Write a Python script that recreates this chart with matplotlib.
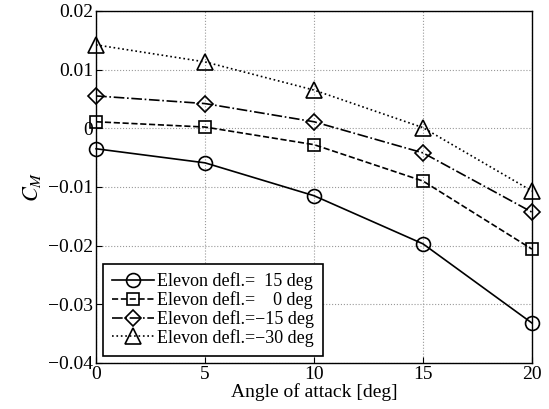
import numpy as np
import matplotlib.pyplot as plt

plt.rcParams['font.family'] = ['Liberation Serif', 'DejaVu Serif']
plt.rcParams['mathtext.fontset'] = 'stix'

alpha = [0, 5, 10, 15, 20]
cm_p15 = [-0.0035, -0.0059, -0.0115, -0.0197, -0.0332]
cm_0 = [0.0011, 0.0002, -0.0028, -0.0090, -0.0206]
cm_m15 = [0.0055, 0.0042, 0.0011, -0.0042, -0.0143]
cm_m30 = [0.0142, 0.0113, 0.0065, 0.0001, -0.0107]

labels = ['Elevon defl.=  15 deg', 'Elevon defl.=    0 deg',
          'Elevon defl.=\u221215 deg', 'Elevon defl.=\u221230 deg']

fig = plt.figure(figsize=(5.49, 4.09), dpi=100)
ax = fig.add_axes([0.175, 0.1125, 0.794, 0.861])

series = [(cm_p15, '-', 'o', 10), (cm_0, '--', 's', 9),
          (cm_m15, '-.', 'D', 8), (cm_m30, ':', '^', 12)]
for (y, ls, mk, ms), lab in zip(series, labels):
    ax.plot(alpha, y, color='k', linestyle=ls, linewidth=1.2, marker=mk,
            markersize=ms, markerfacecolor='none', markeredgecolor='k',
            markeredgewidth=1.2, label=lab, clip_on=False)

ax.set_xlim(0, 20)
ax.set_ylim(-0.04, 0.02)
ax.set_xticks([0, 5, 10, 15, 20])
ax.set_yticks([-0.04, -0.03, -0.02, -0.01, 0, 0.01, 0.02])
ax.set_yticklabels(['\u22120.04', '\u22120.03', '\u22120.02', '\u22120.01', '0', '0.01', '0.02'])
ax.tick_params(direction='in', labelsize=14, length=4, pad=2)
ax.grid(True, linestyle=':', color='#999999', linewidth=0.8)
for s in ax.spines.values():
    s.set_linewidth(1.0)

ax.set_xlabel('Angle of attack [deg]', fontsize=14, labelpad=0)
ax.set_ylabel('$C_M$', fontsize=16, labelpad=4)

leg = ax.legend(loc='lower left', fontsize=13, fancybox=False, edgecolor='k',
                framealpha=1, borderpad=0.5, labelspacing=0.05, handlelength=2.3,
                handletextpad=0.2, borderaxespad=0.4)
leg.get_frame().set_linewidth(1.2)

fig.savefig('out.png', dpi=100)
